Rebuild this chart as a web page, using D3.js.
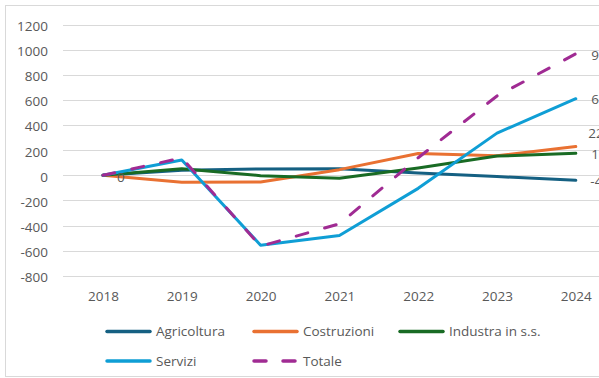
<!DOCTYPE html>
<html><head><meta charset="utf-8">
<script src="https://cdn.jsdelivr.net/npm/d3@7"></script>
<style>
html,body{margin:0;padding:0;background:#fff;overflow:hidden;}
svg{display:block;font-family:"Open Sans",sans-serif;}
</style></head>
<body>
<svg id="chart" width="599" height="378"></svg>
<script>
const years = ["2018","2019","2020","2021","2022","2023","2024"];
const agricoltura = [0, 40, 51, 53, 18, -10, -40];
const costruzioni = [0, -56, -53, 45, 173, 155, 229];
const industria   = [0, 53, -3, -24, 59, 153, 175];
const servizi     = [0, 122, -557, -480, -104, 336, 610];
const totale      = [0, 138, -565, -387, 140, 632, 968];
const yTicks = [-800,-600,-400,-200,0,200,400,600,800,1000,1200];

const series = [
  {name:"Agricoltura", values:agricoltura, color:"#156082", dash:null},
  {name:"Costruzioni", values:costruzioni, color:"#E97132", dash:null},
  {name:"Industra in s.s.", values:industria, color:"#196B24", dash:null},
  {name:"Servizi", values:servizi, color:"#0F9ED5", dash:null},
  {name:"Totale", values:totale, color:"#A02B93", dash:"12,17.5"}
];

const svg = d3.select("#chart");
const textColor = "#595959";
const fmt = v => String(v);

svg.append("rect").attr("x",5.5).attr("y",5.5).attr("width",700).attr("height",371)
  .attr("fill","none").attr("stroke","#D9D9D9").attr("stroke-width",1);

const x = d3.scalePoint().domain(years).range([63.6, 615.2]).padding(0.5);
const y = d3.scaleLinear().domain([-800,1200]).range([275.7, 24.7]);

svg.append("g").selectAll("line").data(yTicks).join("line")
  .attr("x1",63).attr("x2",616)
  .attr("y1",d=>Math.round(y(d))+0.5).attr("y2",d=>Math.round(y(d))+0.5)
  .attr("stroke","#D9D9D9").attr("stroke-width",1);

const yAxis = d3.axisLeft(y).tickValues(yTicks).tickSize(0).tickPadding(0).tickFormat(fmt);
const gy = svg.append("g").attr("transform","translate(48,1.5)").call(yAxis);
gy.select(".domain").remove();
gy.selectAll("text").attr("fill",textColor).style("font-size","13.5px").style("font-family","'Open Sans',sans-serif");

const xAxis = d3.axisBottom(x).tickSize(0).tickPadding(0);
const gx = svg.append("g").attr("transform","translate(0,291.2)").call(xAxis);
gx.select(".domain").remove();
gx.selectAll("text").attr("fill",textColor).style("font-size","13.5px").style("font-family","'Open Sans',sans-serif");

const line = d3.line().x((d,i)=>x(years[i])).y(d=>y(d));
series.forEach(s=>{
  svg.append("path").datum(s.values)
    .attr("d",line).attr("fill","none")
    .attr("stroke",s.color).attr("stroke-width",3)
    .attr("stroke-linejoin","round").attr("stroke-linecap","round")
    .attr("stroke-dasharray", s.dash);
});

const last = years.length-1;
const labelOffsets = {"Agricoltura":[-1,1],"Costruzioni":[-3,-13],"Industra in s.s.":[0,1],"Servizi":[0,1],"Totale":[0,1]};
series.forEach(s=>{
  const o = labelOffsets[s.name];
  svg.append("text")
    .attr("x", x(years[last])+15.5 + o[0])
    .attr("y", y(s.values[last]) + o[1])
    .attr("dy","0.35em")
    .attr("fill",textColor).style("font-size","13.5px")
    .text(fmt(s.values[last]));
});
svg.append("text").attr("x", x(years[0])+14).attr("y", y(totale[0])+1.5).attr("dy","0.35em")
  .attr("fill",textColor).style("font-size","13.5px").text(fmt(totale[0]));

const legendPos = [
  {lx:105, ly:331.5},{lx:252, ly:331.5},{lx:398, ly:331.5},
  {lx:105, ly:361},{lx:252, ly:361}
];
series.forEach((s,i)=>{
  const p = legendPos[i];
  const g = svg.append("g");
  g.append("line").attr("x1",p.lx+2).attr("x2",p.lx+45).attr("y1",p.ly).attr("y2",p.ly)
    .attr("stroke",s.color).attr("stroke-width",3.5).attr("stroke-linecap","round")
    .attr("stroke-dasharray", s.dash ? "12,17" : null);
  g.append("text").attr("x",p.lx+51).attr("y",p.ly).attr("dy","0.35em")
    .attr("fill",textColor).style("font-size","13.5px").text(s.name);
});
</script>
</body></html>
